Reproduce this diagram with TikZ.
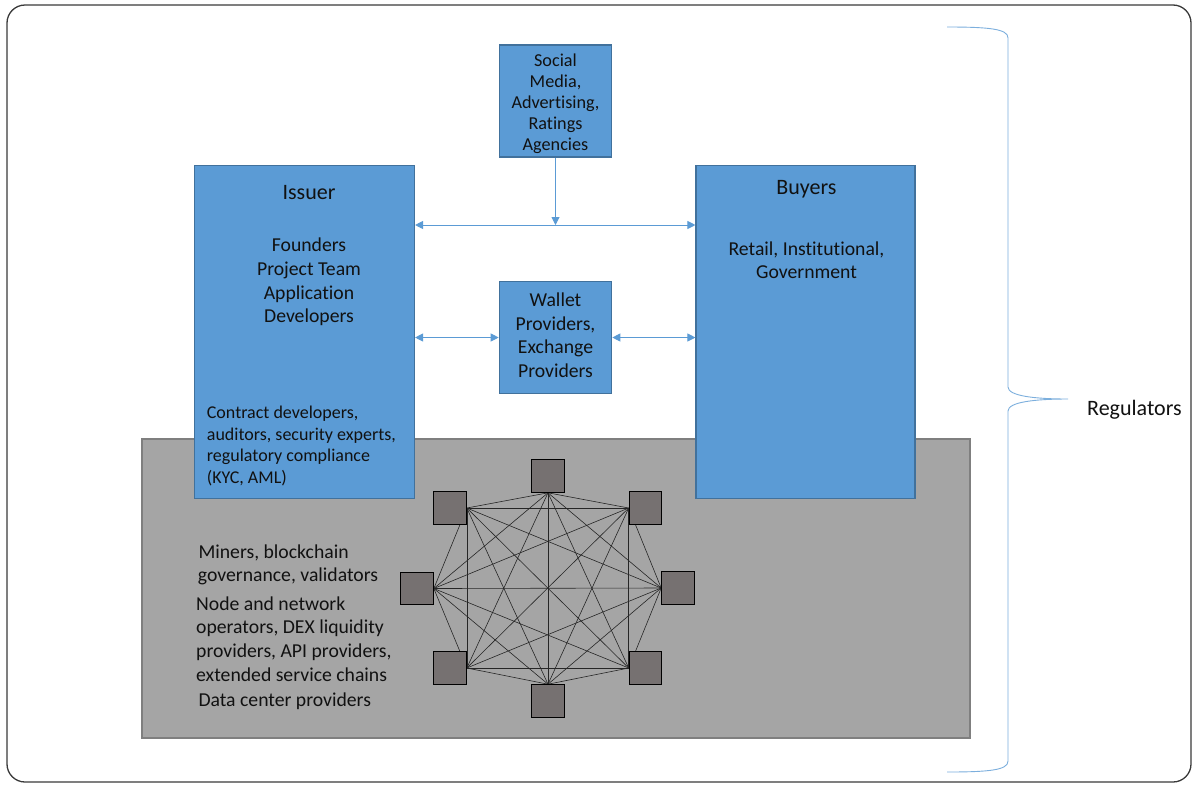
\documentclass[tikz,border=0pt]{standalone}
\usepackage{fontspec}
\setmainfont{Carlito}[Ligatures=NoCommon]
\usetikzlibrary{arrows.meta}
\definecolor{boxblue}{HTML}{5B9BD5}
\definecolor{boxedge}{HTML}{41719C}
\definecolor{panel}{HTML}{A5A5A5}
\definecolor{paneledge}{HTML}{7F7F7F}
\definecolor{peer}{HTML}{767171}
\definecolor{frameline}{HTML}{3A3A3A}
\definecolor{txt}{HTML}{111111}
\pgfdeclarelayer{bg}
\pgfdeclarelayer{edges}
\pgfsetlayers{bg,edges,main}
\newcommand\txttitle{\fontsize{22}{26}\selectfont}
\newcommand\txtbody{\fontsize{19.7}{23.7}\selectfont}
\newcommand\txtsmall{\fontsize{18}{21.7}\selectfont}
\newcommand\txtsocial{\fontsize{18.2}{21}\selectfont}
\begin{document}
\begin{tikzpicture}[x=1pt,y=-1pt,
  bluebox/.style={draw=boxedge, fill=boxblue, line width=1.1pt, inner sep=0pt},
  peernode/.style={draw=black, fill=peer, line width=1.1pt, inner sep=0pt,
    minimum width=32.5pt, minimum height=32.5pt},
  link/.style={draw=black!85, line width=0.6pt},
  flow/.style={draw=boxblue, line width=0.9pt,
    {Triangle[length=8pt,width=8pt]}-{Triangle[length=8pt,width=8pt]}},
  flowone/.style={draw=boxblue, line width=0.9pt, -{Triangle[length=8pt,width=8pt]}},
  lbl/.style={text=txt, inner sep=0pt, anchor=base},
  lblw/.style={text=txt, inner sep=0pt, anchor=base west},
  brace/.style={draw=boxblue!80, line width=0.9pt}]

\useasboundingbox (0,0) rectangle (1193,785);

% frame and blockchain panel
\begin{pgfonlayer}{bg}
  \draw[frameline, line width=1.3pt, fill=white, rounded corners=18pt]
    (7,5) rectangle (1191,782);
  \node[draw=paneledge, fill=panel, line width=1.3pt, inner sep=0pt,
    minimum width=828pt, minimum height=299pt] (panel) at (556,588.5) {};
\end{pgfonlayer}

% participant boxes
\node[bluebox, minimum width=112pt, minimum height=112pt] (social) at (555.5,101) {};
\node[bluebox, minimum width=220pt, minimum height=333pt] (issuer) at (304.5,332) {};
\node[bluebox, minimum width=219pt, minimum height=333pt] (buyers) at (805.5,332) {};
\node[bluebox, minimum width=112.5pt, minimum height=112.5pt] (wallet) at (555.5,337.5) {};

% flows between participants
\coordinate (mid) at (556,225);
\draw[flow] (issuer.east |- mid) -- (buyers.west |- mid);
\draw[flowone] (social.south) -- (social.south |- mid);
\draw[flow] (issuer.east |- wallet.west) -- (wallet.west);
\draw[flow] (wallet.east) -- (buyers.west |- wallet.east);

% texts in the boxes
\node[lbl, font=\txtsocial] (s0) at (555.5,66.5) {Social};
\foreach \t [count=\i] in {{Media,}, {Advertising,}, Ratings, Agencies}
  \node[lbl, font=\txtsocial] (s\i) at (555.5,{66.5+\i*21}) {\t};

\node[lbl, font=\txttitle] (isstitle) at (309,199.3) {Issuer};
\foreach \t [count=\i] in {Founders, Project Team, Application, Developers}
  \node[lbl, font=\txtbody] (iss\i) at (309,{251.7+(\i-1)*23.7}) {\t};
\foreach \t [count=\i] in {{Contract developers,}, {auditors, security experts,},
    regulatory compliance, {(KYC, AML)}}
  \node[lblw, font=\txtsmall] (ctr\i) at (206.7,{418.3+(\i-1)*21.7}) {\t};

\node[lbl, font=\txttitle] (buytitle) at (806.5,194) {Buyers};
\node[lbl, font=\txtbody] (buy1) at (806.5,255.6) {Retail, Institutional,};
\node[lbl, font=\txtbody] (buy2) at (806.5,278.4) {Government};

\foreach \t [count=\i] in {Wallet, {Providers,}, Exchange, Providers}
  \node[lbl, font=\txtbody] (wal\i) at (555.5,{306.6+(\i-1)*23.5}) {\t};

% texts in the blockchain panel
\node[lblw, font=\txtbody] (bc1) at (198.3,558.3) {Miners, blockchain};
\node[lblw, font=\txtbody] (bc2) at (197.7,581.7) {governance, validators};
\foreach \t [count=\i] in {Node and network, {operators, DEX liquidity},
    {providers, API providers,}, extended service chains}
  \node[lblw, font=\txtbody] (op\i) at (196,{610+(\i-1)*23.9}) {\t};
\node[lblw, font=\txtbody] (dc) at (198.3,706.7) {Data center providers};

% peer-to-peer network
\node[peernode] (p1) at (548,476) {};
\node[peernode] (p2) at (450,508) {};
\node[peernode] (p3) at (645.5,508) {};
\node[peernode] (p4) at (417,588.5) {};
\node[peernode] (p5) at (678,588) {};
\node[peernode] (p6) at (450,668) {};
\node[peernode] (p7) at (645.5,668) {};
\node[peernode] (p8) at (548,701) {};
\begin{pgfonlayer}{edges}
  \foreach \a [count=\i] in {p1.south, p2.east, p3.west, p4.east, p5.west, p6.east, p7.west, p8.north}{
    \foreach \b [count=\j] in {p1.south, p2.east, p3.west, p4.east, p5.west, p6.east, p7.west, p8.north}{
      \ifnum\j>\i\relax \draw[link] (\a) -- (\b); \fi
    }
  }
\end{pgfonlayer}

% regulators brace
\coordinate (btop) at (947,27);
\coordinate (btip) at (1068,399);
\coordinate (bbot) at (947,772);
\draw[brace] (btop) .. controls (990,27) and (1008,29) .. (1008,38)
  -- (1008,387) .. controls (1008,396) and (1035,399) .. (btip)
  .. controls (1035,399) and (1008,402) .. (1008,411)
  -- (1008,761) .. controls (1008,770) and (990,772) .. (bbot);
\node[lblw, font=\txttitle] (reg) at (1087,415) {Regulators};
\end{tikzpicture}
\end{document}
